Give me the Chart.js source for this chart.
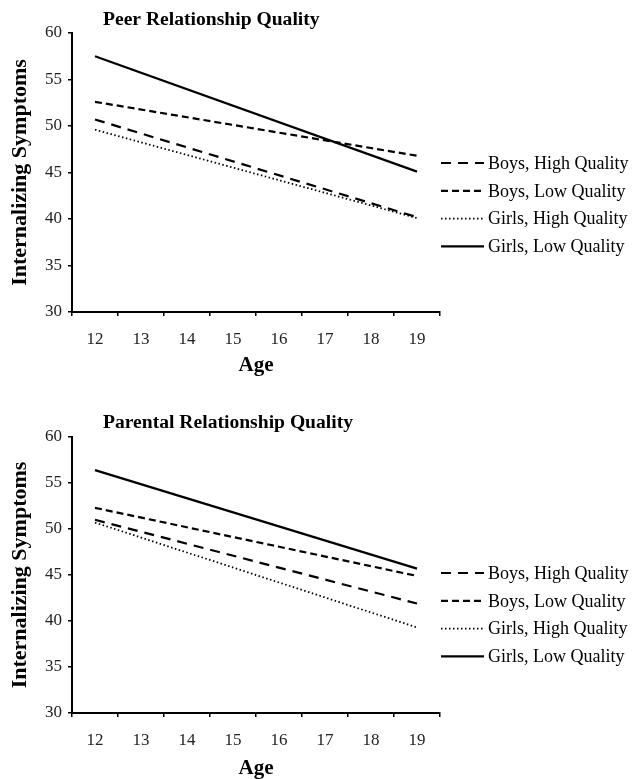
<!DOCTYPE html>
<html>
<head>
<meta charset="utf-8">
<script src="https://cdn.jsdelivr.net/npm/chart.js@4.4.0/dist/chart.umd.min.js"></script>
<style>
  html, body { margin: 0; padding: 0; background: #fff; overflow: hidden; }
  .box { position: absolute; left: 0; width: 633px; }
</style>
</head>
<body>
<div class="box" style="top:0px;height:380px"><canvas id="peer"></canvas></div>
<div class="box" style="top:403px;height:380px"><canvas id="parental"></canvas></div>
<script>
// edades en el eje x
const ages = ['12', '13', '14', '15', '16', '17', '18', '19'];
const yTicks = [30, 35, 40, 45, 50, 55, 60];
const seriesNames = ['Boys, High Quality', 'Boys, Low Quality', 'Girls, High Quality', 'Girls, Low Quality'];

// Peer Relationship Quality (solo hay valores a los 12 y 19)
const peerBoysHigh  = [50.7, null, null, null, null, null, null, 40.2];
const peerBoysLow   = [52.6, null, null, null, null, null, null, 46.8];
const peerGirlsHigh = [49.6, null, null, null, null, null, null, 40.1];
const peerGirlsLow  = [57.5, null, null, null, null, null, null, 45.1];

// Parental Relationship Quality
const parBoysHigh  = [51.0, null, null, null, null, null, null, 41.9];
const parBoysLow   = [52.3, null, null, null, null, null, null, 44.9];
const parGirlsHigh = [50.7, null, null, null, null, null, null, 39.3];
const parGirlsLow  = [56.4, null, null, null, null, null, null, 45.7];

const serif = "'Liberation Serif', 'Times New Roman', serif";

// estilos de linea por serie
const lineStyles = [
  { dash: [10, 7], width: 2.2 },
  { dash: [7, 4], width: 2.2 },
  { dash: [1.5, 2.5], width: 1.8 },
  { dash: [], width: 2.3 }
];

function makeDatasets(values) {
  let ds = [];
  for (let i = 0; i < values.length; i++) {
    ds.push({
      label: seriesNames[i],
      data: values[i],
      borderColor: '#000',
      borderWidth: lineStyles[i].width,
      borderDash: lineStyles[i].dash,
      pointRadius: 0,
      spanGaps: true,
      fill: false,
      tension: 0
    });
  }
  return ds;
}

// titulo y leyenda dibujados a mano
const extraDraw = {
  id: 'extraDraw',
  afterDraw(chart, args, opts) {
    const ctx = chart.ctx;
    const area = chart.chartArea;
    ctx.save();
    ctx.fillStyle = '#000';
    ctx.font = 'bold 19.6px ' + serif;
    ctx.textBaseline = 'alphabetic';
    ctx.textAlign = 'left';
    ctx.fillText(opts.title, opts.titleX, area.top + opts.titleDy);

    ctx.font = '18px ' + serif;
    ctx.textBaseline = 'middle';
    chart.data.datasets.forEach(function (ds, i) {
      let y = area.top + opts.legendTop + i * 27.8;
      ctx.beginPath();
      ctx.setLineDash(ds.borderDash);
      ctx.lineWidth = ds.borderWidth;
      ctx.strokeStyle = '#000';
      ctx.moveTo(area.right + 1, y);
      ctx.lineTo(area.right + 44, y);
      ctx.stroke();
      ctx.setLineDash([]);
      ctx.fillText(ds.label, area.right + 48, y + 1);
    });
    ctx.restore();
  }
};

function makeChart(id, values, title, canvasH, plotTop, plotBottom, legendTop, titleDy) {
  let ctx = document.getElementById(id);
  return new Chart(ctx, {
    type: 'line',
    data: { labels: ages, datasets: makeDatasets(values) },
    options: {
      responsive: true,
      maintainAspectRatio: false,
      animation: false,
      layout: { padding: { top: plotTop, right: 193, left: 0, bottom: 0 } },
      plugins: {
        legend: { display: false },
        tooltip: { enabled: false },
        extraDraw: { title: title, titleX: 103, titleDy: titleDy, legendTop: legendTop }
      },
      scales: {
        x: {
          type: 'category',
          offset: true,
          grid: { offset: true, drawOnChartArea: false, tickLength: 4, color: '#000', lineWidth: 1.5 },
          border: { color: '#000', width: 2 },
          ticks: { color: '#222', font: { family: serif, size: 17 }, padding: 13, maxRotation: 0 },
          title: { display: true, text: 'Age', color: '#000', font: { family: serif, size: 21, weight: 'bold' }, padding: { top: 0, bottom: 2 } },
          afterFit: function (scale) { scale.height = canvasH - plotBottom; }
        },
        y: {
          min: 30,
          max: 60,
          afterBuildTicks: function (scale) { scale.ticks = yTicks.map(v => ({ value: v })); },
          grid: { drawOnChartArea: false, tickLength: 4, color: '#000', lineWidth: 1.5 },
          border: { color: '#000', width: 2 },
          ticks: { color: '#222', font: { family: serif, size: 17 }, padding: 6 },
          title: { display: true, text: 'Internalizing Symptoms', color: '#000', font: { family: serif, size: 22, weight: 'bold' }, padding: { top: 7, bottom: 0 } },
          afterFit: function (scale) { scale.width = 72; }
        }
      }
    },
    plugins: [extraDraw]
  });
}

makeChart('peer', [peerBoysHigh, peerBoysLow, peerGirlsHigh, peerGirlsLow], 'Peer Relationship Quality', 380, 33, 312, 130, -8);
makeChart('parental', [parBoysHigh, parBoysLow, parGirlsHigh, parGirlsLow], 'Parental Relationship Quality', 380, 34, 310, 136, -9);
</script>
</body>
</html>
